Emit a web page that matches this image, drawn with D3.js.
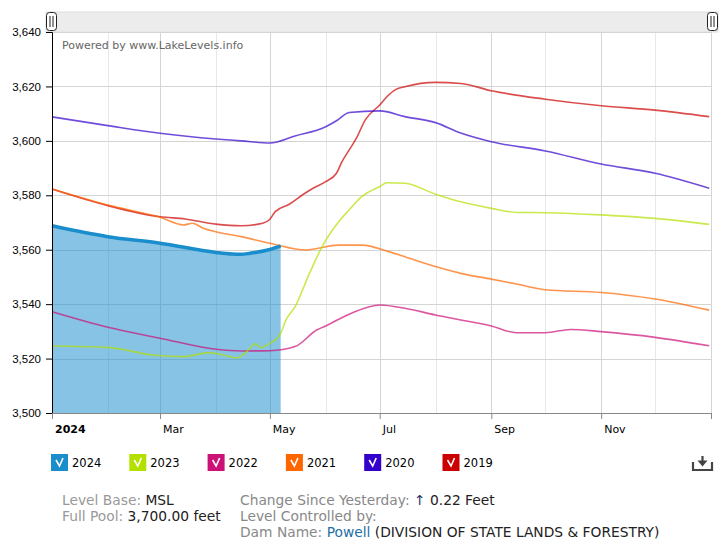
<!DOCTYPE html>
<html>
<head>
<meta charset="utf-8">
<script src="https://cdn.jsdelivr.net/npm/d3@7"></script>
<style>
  body { margin: 0; background: #fff; }
  svg { font-family: Verdana, "DejaVu Sans", sans-serif; }
</style>
</head>
<body>
<div id="chart"></div>
<script>
// Lake Powell levels, one line per year (feet)
const years = ["2024", "2023", "2022", "2021", "2020", "2019"];
const colors = ["#1a8dcd", "#b4e000", "#cc1177", "#ff6600", "#3300cc", "#cc0000"];

const dates2024 = ["01-01","02-01","03-01","04-01","04-10","04-15","04-20","05-01","05-07"];
const vals2024 = [3568.8,3564.8,3562.4,3559,3558.4,3558.3,3558.7,3560.1,3561.4];

const dates2023 = ["01-01","02-01","02-26","03-14","03-28","04-05","04-13","04-18","04-23","04-26","05-01","05-07","05-10","05-15","05-23","05-30","06-09","06-14","06-21","07-01","07-05","07-15","08-01","08-15","09-01","09-15","10-01","11-01","12-01","12-31"];
const vals2023 = [3524.6,3524.1,3521.3,3520.7,3522.2,3521.3,3520.3,3522.5,3525.4,3524,3525.6,3529.3,3534.2,3539.1,3551.3,3561.1,3570.9,3574.6,3579.5,3583.2,3584.6,3584.4,3580.4,3577.6,3575.2,3573.7,3573.6,3572.8,3571.5,3569.3];

const dates2022 = ["01-01","02-01","03-01","04-01","04-15","05-01","05-15","05-27","06-01","06-15","07-01","07-15","08-01","08-15","09-01","09-15","10-01","10-15","11-01","12-01","12-31"];
const vals2022 = [3537.2,3531.5,3527.5,3523.4,3522.8,3522.9,3524.4,3530.5,3532,3536.6,3539.7,3538.5,3536,3534.2,3532,3529.5,3529.5,3530.7,3529.9,3527.8,3524.7];

const dates2021 = ["01-01","02-01","03-01","03-14","03-19","03-25","04-01","04-15","05-01","05-21","06-08","06-21","07-06","07-15","08-01","08-15","09-01","09-15","10-01","11-01","12-01","12-31"];
const vals2021 = [3582.3,3576.4,3571.9,3569.1,3569.7,3567.9,3566.6,3564.8,3562.4,3559.9,3561.7,3561.7,3559.3,3557.4,3553.8,3551.3,3549.2,3547.4,3545.3,3544.3,3541.9,3537.8];

const dates2020 = ["01-01","02-01","03-01","04-01","04-15","05-01","05-15","06-01","06-07","06-14","07-01","07-15","08-01","08-15","09-01","10-01","11-01","12-01","12-31"];
const vals2020 = [3608.8,3605.6,3602.8,3600.7,3600,3599.2,3601.8,3605.2,3607.4,3610.4,3611,3608.9,3606.7,3602.9,3599.7,3596.3,3591.5,3588.1,3582.6];

const dates2019 = ["01-01","02-01","03-01","03-15","04-01","04-15","04-27","05-01","05-04","05-12","05-19","05-25","06-01","06-07","06-10","06-14","06-18","06-23","07-01","07-05","07-10","07-15","08-01","08-15","09-01","10-01","11-01","12-01","12-31"];
const vals2019 = [3582.3,3576.2,3572.1,3571.3,3569.4,3568.8,3569.7,3571.2,3574,3576.8,3580.1,3582.6,3585,3588.1,3592.3,3596.6,3600.9,3607.7,3613.2,3616.2,3618.9,3619.9,3621.5,3621.1,3618.4,3615.3,3612.9,3611.3,3608.9];

const yTicks = [3500, 3520, 3540, 3560, 3580, 3600, 3620, 3640];
const xLabels = ["2024", "Mar", "May", "Jul", "Sep", "Nov"];

const parse = d3.timeParse("%Y-%m-%d");
const toSeries = (dates, vals) => dates.map((d, i) => ({ date: parse("2024-" + d), value: vals[i] }));
const series = [
  toSeries(dates2024, vals2024),
  toSeries(dates2023, vals2023),
  toSeries(dates2022, vals2022),
  toSeries(dates2021, vals2021),
  toSeries(dates2020, vals2020),
  toSeries(dates2019, vals2019)
];

const width = 726, height = 546;
const margin = { top: 32, left: 52, right: 15, bottom: 133 };

const svg = d3.select("#chart").append("svg")
    .attr("width", width)
    .attr("height", height);

const x = d3.scaleTime()
    .domain([parse("2024-01-01"), parse("2025-01-01")])
    .range([margin.left, width - margin.right]);
const y = d3.scaleLinear()
    .domain([3500, 3640])
    .range([height - margin.bottom, margin.top]);

// scrollbar on top
svg.append("rect")
    .attr("x", 46).attr("y", 12).attr("width", 672).attr("height", 20)
    .attr("fill", "#ececec").attr("stroke", "#e0e0e0");
[46, 707].forEach(hx => {
  svg.append("rect")
      .attr("x", hx + 0.5).attr("y", 12.5).attr("width", 10).attr("height", 18).attr("rx", 3)
      .attr("fill", "#fff").attr("stroke", "#222");
  [hx + 4, hx + 7].forEach(lx => {
    svg.append("line")
        .attr("x1", lx).attr("x2", lx).attr("y1", 16).attr("y2", 27)
        .attr("stroke", "#222");
  });
});

// grid
const months = d3.timeMonth.range(parse("2024-02-01"), parse("2025-01-02"));
svg.append("g").selectAll("line")
  .data(months)
  .join("line")
    .attr("x1", d => Math.round(x(d)) + 0.5).attr("x2", d => Math.round(x(d)) + 0.5)
    .attr("y1", margin.top).attr("y2", y(3500))
    .attr("stroke", d => d.getMonth() % 2 === 0 ? "#d4d4d4" : "#e8e8e8");
svg.append("g").selectAll("line")
  .data(yTicks.slice(1))
  .join("line")
    .attr("x1", margin.left).attr("x2", x(parse("2025-01-01")))
    .attr("y1", d => Math.round(y(d)) + 0.5).attr("y2", d => Math.round(y(d)) + 0.5)
    .attr("stroke", "#d4d4d4");

svg.append("text")
    .attr("x", 62).attr("y", 49)
    .attr("font-size", 11).attr("fill", "#666")
    .text("Powered by www.LakeLevels.info");

// 2024 area
svg.append("path")
    .datum(series[0])
    .attr("fill", colors[0]).attr("fill-opacity", 0.53)
    .attr("d", d3.area().x(d => x(d.date)).y0(y(3500)).y1(d => y(d.value)).curve(d3.curveMonotoneX));

// other years
const line = d3.line().x(d => x(d.date)).y(d => y(d.value)).curve(d3.curveMonotoneX);
for (let i = series.length - 1; i >= 1; i--) {
  svg.append("path")
      .datum(series[i])
      .attr("fill", "none")
      .attr("stroke", colors[i])
      .attr("stroke-opacity", 0.7)
      .attr("stroke-width", 1.6)
      .attr("d", line);
}
svg.append("path")
    .datum(series[0])
    .attr("fill", "none")
    .attr("stroke", colors[0])
    .attr("stroke-width", 3.5)
    .attr("d", line);

// axes
const yAxis = svg.append("g")
    .attr("transform", `translate(${margin.left},0)`)
    .call(d3.axisLeft(y).tickValues(yTicks).tickSize(6).tickPadding(5).tickFormat(d3.format(",")));
yAxis.select(".domain").attr("stroke", "#000");
yAxis.selectAll("text").attr("font-size", 11.5).attr("fill", "#000").attr("font-family", null);

const tickDates = d3.timeMonth.every(2).range(parse("2024-01-01"), parse("2025-01-02"));
tickDates.push(parse("2025-01-01"));
const xAxis = svg.append("g")
    .attr("transform", `translate(0,${y(3500)})`)
    .call(d3.axisBottom(x).tickValues(tickDates).tickSize(6).tickSizeOuter(0).tickFormat(() => ""));
xAxis.select(".domain").attr("stroke", "#888");
xAxis.selectAll(".tick line").attr("stroke", "#888");

svg.append("g").selectAll("text")
  .data(xLabels)
  .join("text")
    .attr("x", (d, i) => x(tickDates[i]) + 3)
    .attr("y", y(3500) + 20)
    .attr("font-size", 11)
    .attr("font-weight", (d, i) => i === 0 ? "bold" : null)
    .attr("fill", "#000")
    .text(d => d);

// legend
const legend = svg.append("g").selectAll("g")
  .data(years)
  .join("g")
    .attr("transform", (d, i) => `translate(${51 + i * 78.3},454)`);
legend.append("rect")
    .attr("width", 17).attr("height", 17)
    .attr("fill", (d, i) => colors[i]);
legend.append("path")
    .attr("d", "M5,6 L8.5,12 L12,4")
    .attr("fill", "none").attr("stroke", "#fff").attr("stroke-width", 1.6);
legend.append("text")
    .attr("x", 21).attr("y", 13)
    .attr("font-size", 11.5).attr("fill", "#000")
    .text(d => d);

// download icon
svg.append("path")
    .attr("d", "M693,462 V470 H712 V462 M702.5,456 V465")
    .attr("fill", "none").attr("stroke", "#444").attr("stroke-width", 2.2);
svg.append("path")
    .attr("d", "M697.5,460.5 L702.5,466.5 L707.5,460.5 Z")
    .attr("fill", "#444");

// info text below chart
const info = svg.append("g")
    .attr("font-family", "'DejaVu Sans', sans-serif")
    .attr("font-size", 13.8);
const addLine = (xPos, yPos, parts) => {
  const t = info.append("text").attr("x", xPos).attr("y", yPos);
  parts.forEach(p => t.append("tspan").attr("fill", p[1]).text(p[0]));
};
addLine(62, 505, [["Level Base: ", "#999"], ["MSL", "#222"]]);
addLine(62, 521, [["Full Pool: ", "#999"], ["3,700.00 feet", "#222"]]);
addLine(240, 505, [["Change Since Yesterday: ", "#888"], ["\u2191", "#223366"], [" 0.22 Feet", "#222"]]);
addLine(240, 521, [["Level Controlled by:", "#888"]]);
addLine(240, 537, [["Dam Name: ", "#888"], ["Powell", "#1f6fa8"], [" (DIVISION OF STATE LANDS & FORESTRY)", "#222"]]);
</script>
</body>
</html>
